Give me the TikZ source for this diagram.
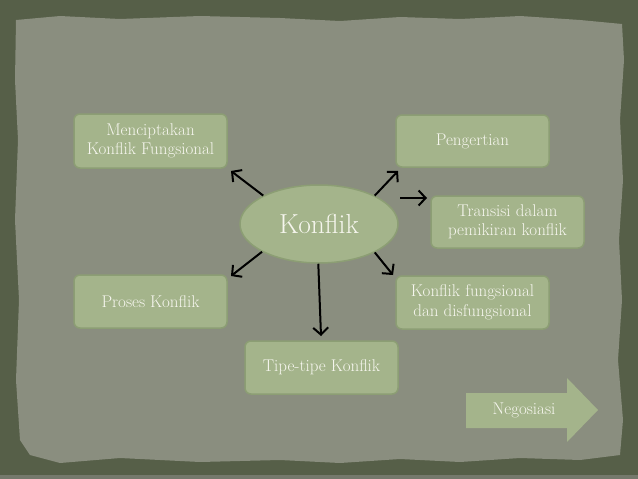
\documentclass[tikz,border=0pt]{standalone}
\usepackage{fontspec}
\usetikzlibrary{arrows.meta,shapes.geometric}
\definecolor{framecol}{RGB}{86,95,72}
\definecolor{papercol}{RGB}{138,142,127}
\definecolor{boxfill}{RGB}{164,180,139}
\definecolor{boxedge}{RGB}{140,158,116}
\definecolor{txt}{RGB}{246,246,238}
\newcommand{\boxfont}{\fontsize{17}{19.5}\selectfont\addfontfeatures{FakeBold=0.6}}
\tikzset{
  box/.style={rectangle, rounded corners=6pt, fill=boxfill, draw=boxedge, line width=1.5pt,
    minimum width=153pt, minimum height=53pt, text=txt, align=center, inner sep=2pt,
    font=\boxfont},
  arr/.style={draw=black, line width=2pt, -{Straight Barb[length=7pt,width=15pt]}}
}
\begin{document}
\begin{tikzpicture}[x=1pt,y=-1pt]
\useasboundingbox (0,0) rectangle (638,479);
\fill[framecol] (0,0) rectangle (638,479);
\fill[papercol!85!black] (0,475) rectangle (638,479);
\fill[papercol] (16,20) -- (60,16) -- (120,19) -- (200,16) -- (280,18) -- (340,21) -- (400,17) -- (460,19) -- (520,16) -- (580,20) -- (622,24)
  -- (624,60) -- (620,120) -- (623,180) -- (619,240) -- (622,300) -- (618,360) -- (623,420) -- (620,455)
  -- (580,460) -- (520,458) -- (460,462) -- (400,459) -- (340,463) -- (280,460) -- (200,462) -- (120,458) -- (60,463) -- (30,455) -- (20,440)
  -- (16,380) -- (19,300) -- (15,220) -- (18,140) -- (15,80) -- cycle;

\node[ellipse, fill=boxfill, draw=boxedge, line width=1.5pt, minimum width=158pt, minimum height=78pt, inner sep=0pt,
  text=txt, font=\fontsize{27.5}{30}\selectfont\addfontfeatures{FakeBold=0.6}] (k) at (319,224) {Konflik};

\node[box, minimum height=54pt] (m) at (150.5,141) {Menciptakan\\Konflik Fungsional};
\node[box, minimum height=52pt] (p) at (472.5,141) {Pengertian};
\node[box, minimum height=52pt] (tr) at (507.5,222) {Transisi dalam\\pemikiran konflik};
\node[box] (kf) at (472.5,302.5) {Konflik fungsional\\dan disfungsional};
\node[box] (pr) at (150.5,301.5) {Proses Konflik};
\node[box] (tp) at (321.5,367.5) {Tipe-tipe Konflik};

\fill[boxfill] (466,393) -- (567,393) -- (567,378) -- (598,410) -- (567,442) -- (567,428) -- (466,428) -- cycle;
\node[text=txt, font=\boxfont] (neg) at (524,410.5) {Negosiasi};

\coordinate (mE) at (231,171);
\coordinate (prE) at (231,276);
\coordinate (tpE) at (321,336);
\coordinate (pE) at (398,171);
\coordinate (trS) at (400,198);
\coordinate (trE) at (427,198);
\coordinate (kfE) at (393,275);

\draw[arr] (k.153) -- (mE);
\draw[arr] (k.206) -- (prE);
\draw[arr] (k.269) -- (tpE);
\draw[arr] (k.27) -- (pE);
\draw[arr] (trS) -- (trE);
\draw[arr] (k.333) -- (kfE);
\end{tikzpicture}
\end{document}
